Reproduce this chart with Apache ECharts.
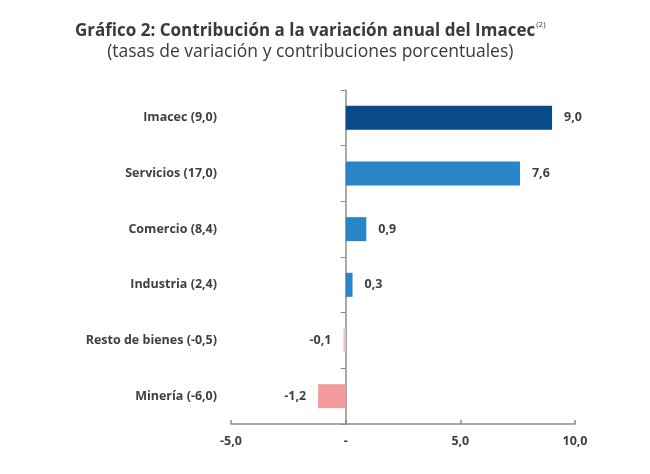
<!DOCTYPE html>
<html>
<head>
<meta charset="utf-8">
<script src="https://cdn.jsdelivr.net/npm/echarts@6/dist/echarts.min.js"></script>
<style>
  html, body { margin: 0; padding: 0; background: #fff; }
  #chart { width: 650px; height: 474px; }
</style>
</head>
<body>
<div id="chart"></div>
<script>
// categorías (de arriba hacia abajo) y contribuciones
const categories = ['Imacec (9,0)', 'Servicios (17,0)', 'Comercio (8,4)', 'Industria (2,4)', 'Resto de bienes (-0,5)', 'Minería (-6,0)']
const contributions = [9.0, 7.6, 0.9, 0.3, -0.1, -1.2]
const barColors = ['#0b4a8a', '#2a84c6', '#2a84c6', '#2a84c6', '#f2c9cb', '#f29a9b']
const xTicks = [-5, 0, 5, 10]

const fmt = v => v === 0 ? '-' : v.toFixed(1).replace('.', ',')
const font = '"Open Sans", Lato, sans-serif'

const chart = echarts.init(document.getElementById('chart'))
chart.setOption({
  animation: false,
  title: {
    text: '{t|Gráfico 2: Contribución a la variación anual del Imacec}{s|(2)}\n{n|(tasas de variación y contribuciones porcentuales)}',
    left: 70,
    top: 16,
    textStyle: {
      rich: {
        t: { fontFamily: font, fontSize: 17, fontWeight: 'bold', color: '#3a3a3a', lineHeight: 21 },
        s: { fontFamily: font, fontSize: 8, fontWeight: 'normal', color: '#3a3a3a', verticalAlign: 'top', lineHeight: 21, padding: [0, 0, 8, 1] },
        n: { fontFamily: font, fontSize: 17.5, fontWeight: 'normal', color: '#3a3a3a', lineHeight: 21, align: 'center' }
      }
    }
  },
  grid: { left: 231, right: 75, top: 90, bottom: 50 },
  xAxis: {
    type: 'value',
    min: -5,
    max: 10,
    interval: 5,
    splitLine: { show: false },
    axisLine: { show: true, onZero: false, lineStyle: { color: '#8c8c8c', width: 1.5 } },
    axisTick: { show: true, inside: true, length: 4, lineStyle: { color: '#8c8c8c', width: 1.5 } },
    axisLabel: {
      margin: 11,
      fontFamily: font,
      fontSize: 12.5,
      fontWeight: 'bold',
      color: '#404040',
      formatter: v => xTicks.includes(v) ? fmt(v) : ''
    }
  },
  yAxis: [
    {
      type: 'category',
      data: categories,
      inverse: true,
      axisLine: { show: true, onZero: true, lineStyle: { color: '#8c8c8c', width: 1.5 } },
      axisTick: { show: true, length: 5, lineStyle: { color: '#8c8c8c', width: 1 } },
      axisLabel: { show: false }
    },
    {
      type: 'category',
      data: categories,
      inverse: true,
      position: 'left',
      axisLine: { show: false, onZero: false },
      axisTick: { show: false },
      axisLabel: {
        margin: 14,
        fontFamily: font,
        fontSize: 12.5,
        fontWeight: 'bold',
        color: '#404040'
      }
    }
  ],
  series: [{
    type: 'bar',
    yAxisIndex: 0,
    barWidth: 24,
    data: contributions.map((v, i) => ({
      value: v,
      itemStyle: { color: barColors[i] },
      label: { position: v < 0 ? 'left' : 'right' }
    })),
    label: {
      show: true,
      distance: 12,
      fontFamily: font,
      fontSize: 12.5,
      fontWeight: 'bold',
      color: '#404040',
      formatter: p => fmt(p.value)
    }
  }]
})
</script>
</body>
</html>
